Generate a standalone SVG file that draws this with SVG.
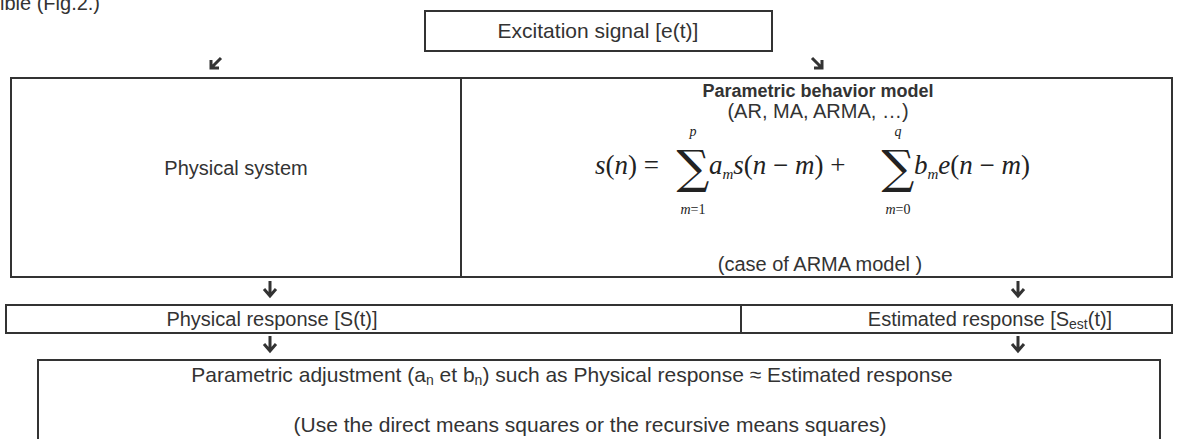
<svg xmlns="http://www.w3.org/2000/svg" width="1178" height="439" viewBox="0 0 1178 439">
<style>
.box{fill:none;stroke:#333;stroke-width:2}
.t{font-family:"Liberation Sans",Arial,sans-serif;font-size:20px;fill:#333}
.big{font-size:21px}
.c{text-anchor:middle}
.b{font-weight:bold;font-size:18px}
.m{font-family:"Liberation Serif","Times New Roman",serif;font-size:27px;fill:#222;font-style:italic}
.mu{font-family:"Liberation Serif","Times New Roman",serif;font-style:normal}
.ml{font-family:"Liberation Serif","Times New Roman",serif;font-size:14px;fill:#222;font-style:italic;text-anchor:middle}
.sig{font-family:"DejaVu Serif",serif;font-size:46px;fill:#222;text-anchor:middle}
.arr{fill:none;stroke:#333;stroke-width:3;stroke-linecap:butt}
</style>
<defs>
<g id="down"><path class="arr" d="M0,0 V15 M-6,8 L0,15 L6,8"/></g>
</defs>
<text class="t" x="0" y="10" font-size="22">ible (Fig.2.)</text>
<g id="excitation">
<rect class="box" x="425" y="11" width="347" height="40"/>
<text class="t c big" x="598" y="38">Excitation signal [e(t)]</text>
</g>
<g id="physical-system">
<rect class="box" x="11" y="78" width="450" height="199"/>
<text class="t c" x="236" y="175">Physical system</text>
</g>
<g id="model">
<rect class="box" x="461" y="78" width="711" height="199"/>
<text class="t c b" x="818" y="97">Parametric behavior model</text>
<text class="t c" x="818" y="118">(AR, MA, ARMA, …)</text>
<text class="m" x="595" y="174">s<tspan class="mu">(</tspan>n<tspan class="mu">) =</tspan></text>
<text class="sig" x="693" y="183">∑</text>
<text class="ml" x="693" y="136">p</text>
<text class="ml" x="693" y="214">m<tspan font-style="normal">=1</tspan></text>
<text class="m" x="709" y="174">a<tspan font-size="15" dy="5">m</tspan><tspan dy="-5">s</tspan><tspan class="mu">(</tspan>n<tspan class="mu"> − </tspan>m<tspan class="mu">) +</tspan></text>
<text class="sig" x="898" y="183">∑</text>
<text class="ml" x="898" y="136">q</text>
<text class="ml" x="898" y="214">m<tspan font-style="normal">=0</tspan></text>
<text class="m" x="914" y="174">b<tspan font-size="15" dy="5">m</tspan><tspan dy="-5">e</tspan><tspan class="mu">(</tspan>n<tspan class="mu"> − </tspan>m<tspan class="mu">)</tspan></text>
<text class="t c" x="820" y="271">(case of ARMA model )</text>
</g>
<g id="physical-response">
<rect class="box" x="6" y="305" width="735" height="28"/>
<text class="t c" x="272" y="326">Physical response [S(t)]</text>
</g>
<g id="estimated-response">
<rect class="box" x="741" y="305" width="431" height="28"/>
<text class="t c" x="990" y="326">Estimated response [S<tspan font-size="14" dy="3">est</tspan><tspan dy="-3">(t)]</tspan></text>
</g>
<g id="adjustment">
<rect class="box" x="38" y="360" width="1122" height="100"/>
<text class="t c big" x="572" y="382">Parametric adjustment (a<tspan font-size="14" dy="3">n</tspan><tspan dy="-3"> et b</tspan><tspan font-size="14" dy="3">n</tspan><tspan dy="-3">) such as Physical response ≈ Estimated response</tspan></text>
<text class="t c big" x="590" y="432">(Use the direct means squares or the recursive means squares)</text>
</g>
<g id="connectors">
<path class="arr" d="M221,58 L211,68 M211,60 V68 H219"/>
<path class="arr" d="M812,58 L822,68 M822,60 V68 H814"/>
<use href="#down" x="270" y="281"/>
<use href="#down" x="1018" y="281"/>
<use href="#down" x="270" y="336"/>
<use href="#down" x="1018" y="336"/>
</g>
</svg>
